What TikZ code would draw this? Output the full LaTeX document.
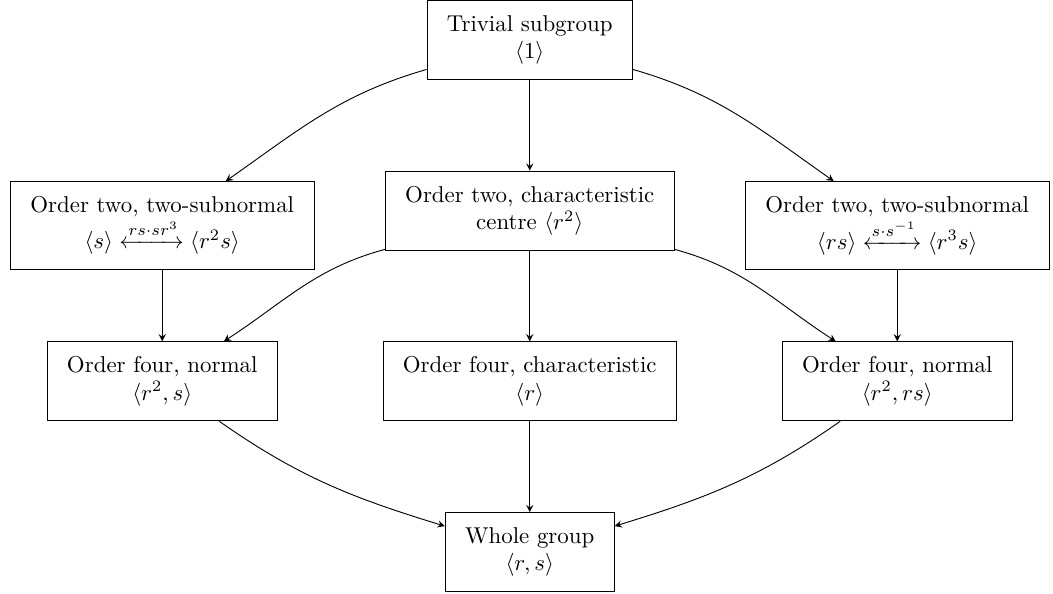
\documentclass[tikz,border=0pt]{standalone}
\usepackage{mathtools}
\usetikzlibrary{arrows,positioning}

\begin{document}
\begin{tikzpicture}[node distance=2.62cm]
\tikzstyle{block} = [rectangle, align=center, inner xsep=8.7pt, inner ysep=6.5pt, draw=black]
\tikzstyle{arrow} = [->,>=stealth]
%
\node (trivial)    [block] {Trivial subgroup\\$\langle 1\rangle$};
\useasboundingbox (trivial.center) ++(-8.13,0.6) rectangle ++(16.16,-9.09);
\node (centre)     [block, below of=trivial] {Order two, characteristic\\centre $\langle r^2\rangle$};
\node (twoleft)    [block, left of=centre, xshift=-3.02cm, yshift=-0.23cm] {Order two, two-subnormal\\$\langle s\rangle \xleftrightarrow{rs\cdot sr^3} \langle r^2 s\rangle$};
\node (tworight)   [block, right of=centre, xshift=3.02cm, yshift=-0.23cm] {Order two, two-subnormal\\$\langle rs\rangle \xleftrightarrow{s\cdot s^{-1}} \langle r^3 s\rangle$};
\node (cyclic)     [block, below of=centre] {Order four, characteristic\\$\langle r\rangle$};
\node (fourleft)   [block, left of=cyclic, xshift=-3.02cm] {Order four, normal\\$\langle r^2, s\rangle$};
\node (fourright)  [block, right of=cyclic, xshift=3.02cm] {Order four, normal\\$\langle r^2, rs\rangle$};
\node (whole)      [block, below of=cyclic] {Whole group\\$\langle r, s\rangle$};
%
\draw [arrow] (trivial) to[out=196, in=35] (twoleft);
\draw [arrow] (trivial) -- (centre);
\draw [arrow] (trivial) to[out=344, in=145] (tworight);
\draw [arrow] (twoleft) -- (fourleft);
\draw [arrow] (centre) to[out=195, in=33] (fourleft);
\draw [arrow] (centre) -- (cyclic);
\draw [arrow] (centre) to[out=345, in=147] (fourright);
\draw [arrow] (tworight) -- (fourright);
\draw [arrow] (fourleft) to[out=325, in=163] (whole);
\draw [arrow] (cyclic) -- (whole);
\draw [arrow] (fourright) to[out=215, in=17] (whole);
\end{tikzpicture}
\end{document}
